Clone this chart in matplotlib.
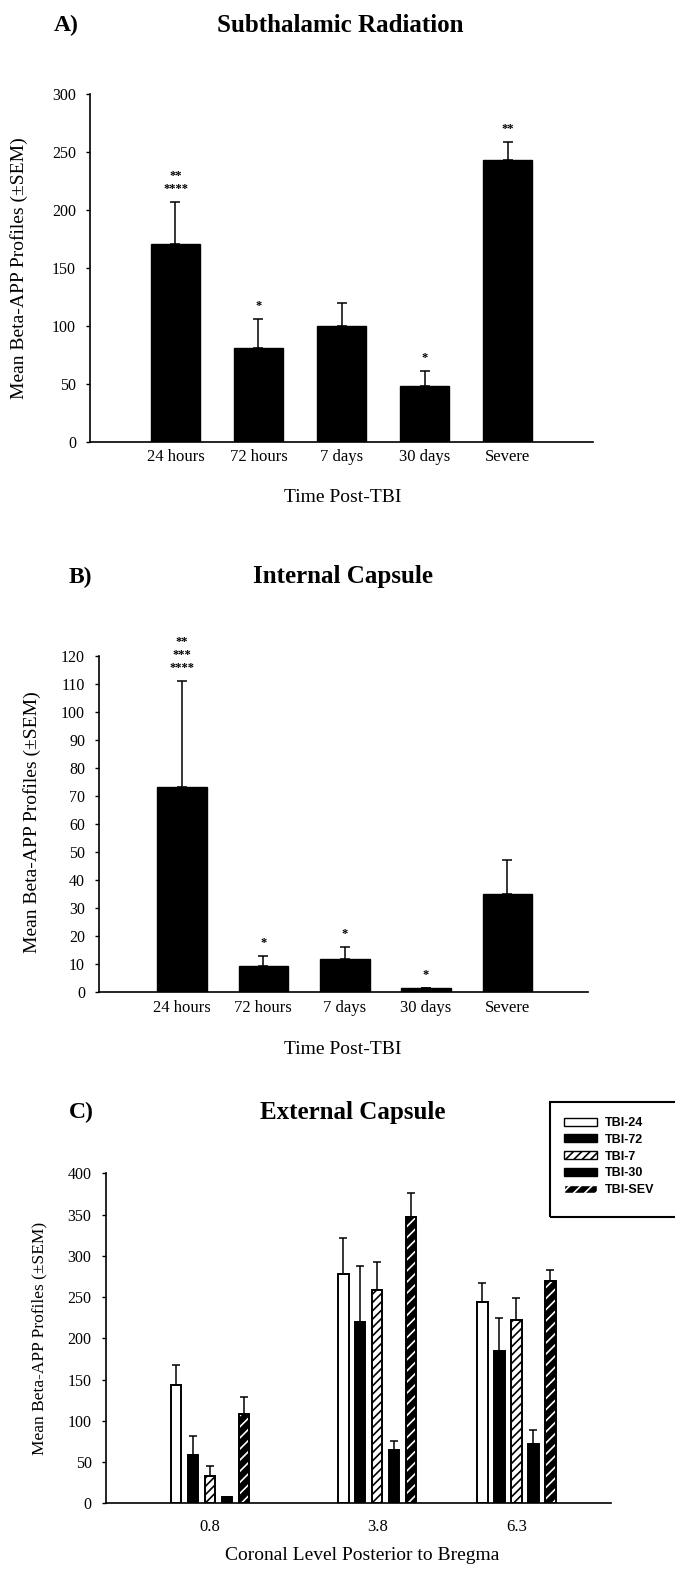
import matplotlib
matplotlib.use("Agg")
import matplotlib.pyplot as plt
from matplotlib.patches import Patch, Rectangle
import numpy as np

plt.rcParams['font.family'] = ['Liberation Serif', 'DejaVu Serif']
plt.rcParams['hatch.linewidth'] = 1.2

# data
time_labels = ["24 hours", "72 hours", "7 days", "30 days", "Severe"]

# A) subthalamic radiation
subthal_mean = [171, 81, 100, 48, 243]
subthal_sem = [36, 25, 20, 13, 16]
subthal_stars = [["****", "**"], ["*"], [], ["*"], ["**"]]

# B) internal capsule
intcap_mean = [73.3, 9.2, 11.6, 1.2, 34.9]
intcap_sem = [37.7, 3.6, 4.3, 0.3, 12.2]
intcap_stars = [["****", "***", "**"], ["*"], ["*"], ["*"], []]

# C) external capsule
levels = [0.8, 3.8, 6.3]
group_names = ["TBI-24", "TBI-72", "TBI-7", "TBI-30", "TBI-SEV"]
tbi24_mean = [144, 278, 244]
tbi24_sem = [24, 44, 23]
tbi72_mean = [59, 220, 185]
tbi72_sem = [23, 68, 40]
tbi7_mean = [33, 259, 222]
tbi7_sem = [12, 34, 27]
tbi30_mean = [8, 65, 72]
tbi30_sem = [0, 10, 17]
tbisev_mean = [108, 347, 270]
tbisev_sem = [21, 29, 13]

W, H = 675, 1593
fig = plt.figure(figsize=(W / 100, H / 100), dpi=100)


def add_ax(left, right, bottom, top):
    return fig.add_axes([left / W, 1 - bottom / H, (right - left) / W, (bottom - top) / H])


def style_ax(ax, xpad, ylab_size):
    for s in ['top', 'right']:
        ax.spines[s].set_visible(False)
    for s in ['left', 'bottom']:
        ax.spines[s].set_linewidth(1.2)
    ax.tick_params(axis='y', length=3, width=1, pad=7, labelsize=11.5)
    ax.tick_params(axis='x', length=0, pad=xpad, labelsize=12)
    ax.set_ylabel("Mean Beta-APP Profiles (\u00b1SEM)", fontsize=ylab_size)


def simple_panel(ax, means, sems, stars, ymax, ystep, xlim, width):
    x = np.arange(len(means))
    ax.bar(x, means, width, color='black', edgecolor='black')
    ax.errorbar(x, means, yerr=[np.zeros(len(sems)), sems], fmt='none',
                ecolor='black', elinewidth=1.1, capsize=3.5, capthick=1.1)
    for xi, m, s, rows in zip(x, means, sems, stars):
        for i, txt in enumerate(rows):
            ax.annotate(txt, (xi, m + s), xytext=(0, 10 + 13 * i),
                        textcoords='offset pixels', ha='center', va='baseline',
                        fontsize=9, fontweight='bold', annotation_clip=False)
    ax.set_xlim(*xlim)
    ax.set_ylim(0, ymax)
    ax.set_yticks(np.arange(0, ymax + 1, ystep))
    ax.set_xticks(x)
    ax.set_xticklabels(time_labels)


# panel A
axA = add_ax(90, 593, 442, 94)
simple_panel(axA, subthal_mean, subthal_sem, subthal_stars, 300, 50, (-1.03, 5.03), 0.59)
style_ax(axA, 5, 14)
axA.set_xlabel("Time Post-TBI", fontsize=14)
axA.xaxis.set_label_coords(0.503, -0.135)
axA.yaxis.set_label_coords(-0.123, 0.5)
fig.text(54 / W, 1 - 25 / H, "A)", fontsize=17, fontweight='bold', va='center')
fig.text(340 / W, 1 - 25 / H, "Subthalamic Radiation", fontsize=18,
         fontweight='bold', ha='center', va='center')

# panel B
axB = add_ax(99, 588, 991.7, 656)
simple_panel(axB, intcap_mean, intcap_sem, intcap_stars, 120, 10, (-1.02, 4.99), 0.61)
style_ax(axB, 6, 14)
axB.set_xlabel("Time Post-TBI", fontsize=14)
axB.xaxis.set_label_coords(0.499, -0.147)
axB.yaxis.set_label_coords(-0.119, 0.505)
fig.text(69 / W, 1 - 577 / H, "B)", fontsize=17, fontweight='bold', va='center')
fig.text(343 / W, 1 - 577 / H, "Internal Capsule", fontsize=18,
         fontweight='bold', ha='center', va='center')

# panel C
axC = add_ax(105.5, 611, 1503.3, 1173.3)
c_means = [tbi24_mean, tbi72_mean, tbi7_mean, tbi30_mean, tbisev_mean]
c_sems = [tbi24_sem, tbi72_sem, tbi7_sem, tbi30_sem, tbisev_sem]
c_face = ['white', 'black', 'white', 'black', 'black']
c_hatch = [None, None, '////', None, '///']
c_hcol = ['black', 'black', 'black', 'black', 'white']
lv = np.array(levels)
bw = 0.19
handles = []
for i, (m, s) in enumerate(zip(c_means, c_sems)):
    xs = lv + 0.305 * (i - 2)
    axC.bar(xs, m, bw, color=c_face[i], edgecolor=c_hcol[i], hatch=c_hatch[i], linewidth=0)
    axC.bar(xs, m, bw, fill=False, edgecolor='black', linewidth=1.4)
    axC.errorbar(xs, m, yerr=[np.zeros(len(s)), s], fmt='none', ecolor='black',
                 elinewidth=1.1, capsize=3, capthick=1.1)
    handles.append(Patch(facecolor=c_face[i], edgecolor=c_hcol[i] if c_hatch[i] else 'black',
                         hatch=c_hatch[i], linewidth=1))
axC.set_xlim(-1.08, 8.0)
axC.set_ylim(0, 400)
axC.set_yticks(np.arange(0, 401, 50))
axC.set_xticks(levels)
axC.set_xticklabels([str(v) for v in levels])
style_ax(axC, 11, 12.5)
axC.set_xlabel("Coronal Level Posterior to Bregma", fontsize=14)
axC.xaxis.set_label_coords(0.507, -0.132)
axC.yaxis.set_label_coords(-0.114, 0.5)
fig.text(69 / W, 1 - 1112 / H, "C)", fontsize=17, fontweight='bold', va='center')
fig.text(353 / W, 1 - 1112 / H, "External Capsule", fontsize=18,
         fontweight='bold', ha='center', va='center')

fig.add_artist(Rectangle((550 / W, 1 - 1217 / H), 0.3, 115 / H, transform=fig.transFigure,
                         fill=False, edgecolor='black', linewidth=1.5))
fig.legend(handles, group_names, loc='upper left', bbox_to_anchor=(564 / W, 1 - 1117 / H),
           frameon=False, borderpad=0, borderaxespad=0, handlelength=2.6, handleheight=0.6,
           handletextpad=0.7, labelspacing=0.38,
           prop={'family': 'Liberation Sans', 'weight': 'bold', 'size': 9})

fig.savefig("out.png", dpi=100)
